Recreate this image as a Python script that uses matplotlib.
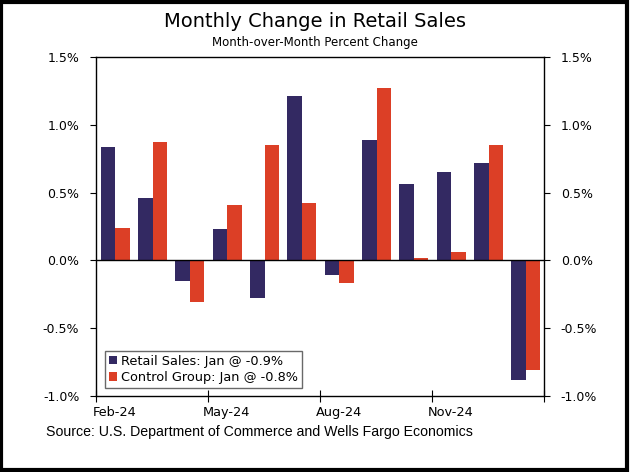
import matplotlib
matplotlib.use("Agg")
import matplotlib.pyplot as plt
import numpy as np
from matplotlib.patches import Rectangle
from matplotlib.ticker import FuncFormatter

months = ["Feb-24", "Mar-24", "Apr-24", "May-24", "Jun-24", "Jul-24",
          "Aug-24", "Sep-24", "Oct-24", "Nov-24", "Dec-24", "Jan-25"]
retail = [0.84, 0.46, -0.15, 0.23, -0.28, 1.21, -0.11, 0.89, 0.56, 0.65, 0.72, -0.88]
control = [0.24, 0.87, -0.31, 0.41, 0.85, 0.42, -0.17, 1.27, 0.02, 0.06, 0.85, -0.81]
tick_labels = ["Feb-24", "May-24", "Aug-24", "Nov-24"]

navy = "#332962"
red = "#DC3F26"

fig = plt.figure(figsize=(6.3, 4.72), dpi=100)
ax = fig.add_axes([0.1524, 0.161, 0.7111, 0.7182])

x = np.arange(len(months))
w = 0.39
ax.bar(x - 0.18, retail, w, color=navy, label="Retail Sales: Jan @ -0.9%")
ax.bar(x + 0.21, control, w, color=red, label="Control Group: Jan @ -0.8%")
ax.axhline(0, color="black", lw=1)

ax.set_xlim(-0.5, 11.5)
ax.set_ylim(-1.0, 1.5)
ax.set_yticks([-1.0, -0.5, 0.0, 0.5, 1.0, 1.5])
ax.yaxis.set_major_formatter(FuncFormatter(lambda v, p: f"{v:.1f}%"))
ax.tick_params(axis="y", which="both", direction="out", length=4, labelsize=9,
               right=True, labelright=True, pad=8)

ax.set_xticks([-0.5, 2.5, 5.5, 8.5, 11.5])
ax.set_xticklabels([])
ax.set_xticks([0, 3, 6, 9], minor=True)
ax.set_xticklabels(tick_labels, minor=True, fontsize=9.3)
ax.tick_params(axis="x", which="major", direction="inout", length=8)
ax.tick_params(axis="x", which="minor", length=0, pad=7)

for s in ax.spines.values():
    s.set_linewidth(1)

leg = ax.legend(loc="lower left", bbox_to_anchor=(0.02, 0.024), fontsize=9.3,
                frameon=True, fancybox=False, edgecolor="#444444",
                handlelength=0.6, handleheight=0.6, handletextpad=0.35,
                borderpad=0.3, labelspacing=0.25, borderaxespad=0)
leg.get_frame().set_linewidth(1)

fig.text(0.5, 0.954, "Monthly Change in Retail Sales", ha="center", va="center",
         fontsize=14)
fig.text(0.5, 0.911, "Month-over-Month Percent Change", ha="center", va="center",
         fontsize=8.5)
fig.text(0.073, 0.085, "Source: U.S. Department of Commerce and Wells Fargo Economics",
         ha="left", va="center", fontsize=10.2, family="Liberation Sans")

fig.patches.append(Rectangle((0.002, 0.004), 0.993, 0.992, transform=fig.transFigure,
                             fill=False, edgecolor="black", lw=3))

fig.savefig("out.png", dpi=100)
